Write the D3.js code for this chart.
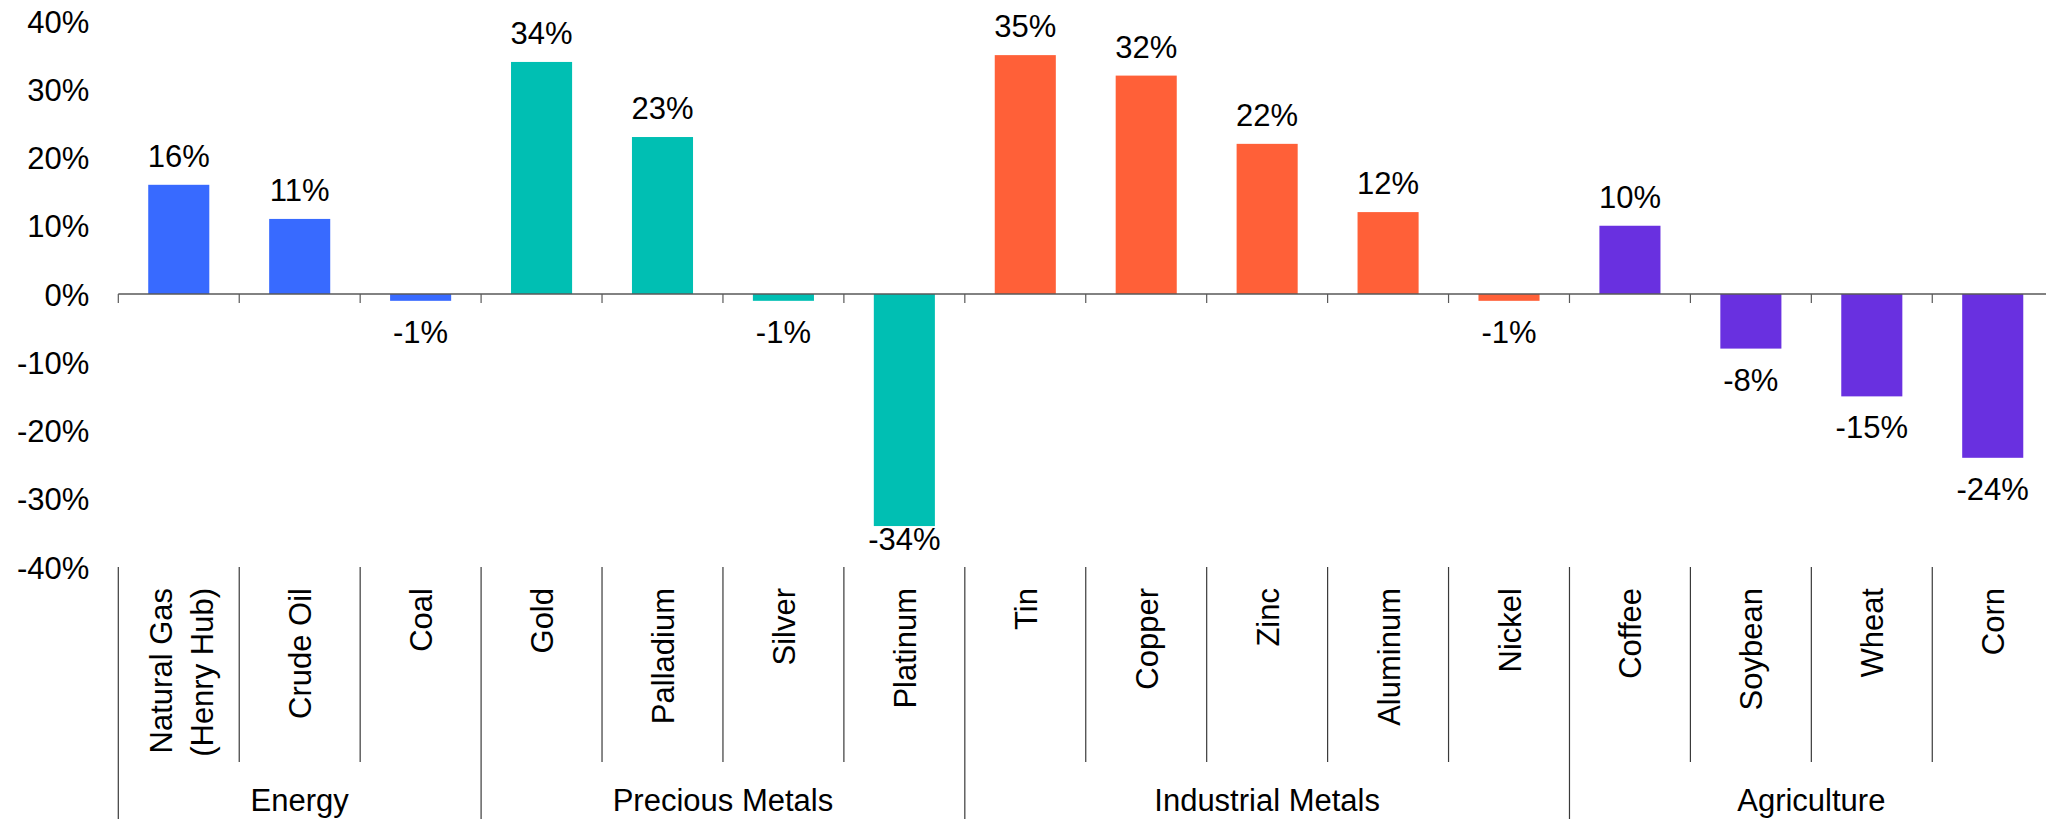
<!DOCTYPE html>
<html>
<head>
<meta charset="utf-8">
<script src="https://cdn.jsdelivr.net/npm/d3@7/dist/d3.min.js"></script>
<style>
  html, body { margin: 0; padding: 0; background: #fff; overflow: hidden; }
  svg { display: block; }
  text { font-family: "Liberation Sans", Arial, Helvetica, sans-serif; fill: #000; }
</style>
</head>
<body>
<svg id="chart" width="2046" height="819"></svg>
<script>
// Commodity returns by sector
const categories = [
  "Natural Gas\n(Henry Hub)", "Crude Oil", "Coal",
  "Gold", "Palladium", "Silver", "Platinum",
  "Tin", "Copper", "Zinc", "Aluminum", "Nickel",
  "Coffee", "Soybean", "Wheat", "Corn"
];
const values = [16, 11, -1, 34, 23, -1, -34, 35, 32, 22, 12, -1, 10, -8, -15, -24];
const groups = ["Energy", "Precious Metals", "Industrial Metals", "Agriculture"];
const groupSizes = [3, 4, 5, 4];
const groupColors = ["#386AFF", "#00BFB3", "#FF6038", "#6930E0"];
const yTicks = [-40, -30, -20, -10, 0, 10, 20, 30, 40];

const W = 2046, H = 819;
const FONT = 31;
const plotLeft = 118.3, plotRight = 2053.2, plotTop = 21, plotBottom = 567;

const svg = d3.select("#chart");

// group index for each category
const groupIndex = [];
groupSizes.forEach((n, g) => { for (let i = 0; i < n; i++) groupIndex.push(g); });

const x = d3.scaleBand().domain(categories).range([plotLeft, plotRight]).paddingInner(0).paddingOuter(0);
const y = d3.scaleLinear().domain([-40, 40]).range([plotBottom, plotTop]);
const bw = x.bandwidth();
const barW = bw * 0.505;

// percent text with a plain hyphen for negatives
const pct = v => String(v) + "%";

// y axis labels (no axis line)
const yAxis = d3.axisLeft(y).tickValues(yTicks).tickFormat(pct).tickSize(0).tickPadding(29);
const gy = svg.append("g").attr("transform", `translate(${plotLeft},0)`).call(yAxis);
gy.select(".domain").remove();
gy.selectAll("text")
  .attr("dy", "0.355em")
  .style("font-size", FONT + "px")
  .style("font-family", '"Liberation Sans", Arial, sans-serif')
  .attr("fill", "#000");

// bars
svg.append("g").selectAll("rect")
  .data(categories)
  .join("rect")
  .attr("x", (c) => x(c) + (bw - barW) / 2)
  .attr("y", (c, i) => y(Math.max(0, values[i])))
  .attr("width", barW)
  .attr("height", (c, i) => Math.abs(y(values[i]) - y(0)))
  .attr("fill", (c, i) => groupColors[groupIndex[i]]);

// zero axis line with boundary ticks
const boundaries = categories.map(c => x(c)).concat([plotRight]);
const axisG = svg.append("g");
axisG.append("line")
  .attr("x1", plotLeft).attr("x2", plotRight)
  .attr("y1", y(0)).attr("y2", y(0))
  .attr("stroke", "#595959").attr("stroke-width", 1.4);
axisG.selectAll("line.tick")
  .data(boundaries)
  .join("line")
  .attr("class", "tick")
  .attr("x1", d => d).attr("x2", d => d)
  .attr("y1", y(0)).attr("y2", y(0) + 9)
  .attr("stroke", "#595959").attr("stroke-width", 1.2);

// value labels
svg.append("g").selectAll("text")
  .data(categories)
  .join("text")
  .attr("x", c => x(c) + bw / 2)
  .attr("y", (c, i) => {
    const v = values[i];
    if (v >= 0) return y(v) - 17.7;
    return Math.min(y(v) + 42, plotBottom - 17);
  })
  .attr("text-anchor", "middle")
  .style("font-size", FONT + "px")
  .text((c, i) => pct(values[i]));

// category divider lines and rotated labels
const catLineBottom = 762;
const groupStarts = [];
{ let s = 0; groupSizes.forEach(n => { groupStarts.push(s); s += n; }); groupStarts.push(s); }
const divG = svg.append("g");
boundaries.forEach((bx, k) => {
  const isGroupEdge = groupStarts.includes(k);
  divG.append("line")
    .attr("x1", bx).attr("x2", bx)
    .attr("y1", plotBottom).attr("y2", isGroupEdge ? H + 2 : catLineBottom)
    .attr("stroke", "#3a3a3a").attr("stroke-width", 1.2);
});

const labG = svg.append("g");
categories.forEach(c => {
  const lines = c.split("\n");
  const cx = x(c) + bw / 2;
  lines.forEach((ln, i) => {
    const bx = cx + 11.5 + (i - (lines.length - 1) / 2) * 41 + (lines.length > 1 ? 2 : 0);
    labG.append("text")
      .attr("transform", `translate(${bx},588) rotate(-90)`)
      .attr("text-anchor", "end")
      .style("font-size", FONT + "px")
      .text(ln);
  });
});

// group labels
groups.forEach((g, gi) => {
  const x0 = boundaries[groupStarts[gi]];
  const x1 = boundaries[groupStarts[gi + 1]];
  svg.append("text")
    .attr("x", (x0 + x1) / 2)
    .attr("y", 811)
    .attr("text-anchor", "middle")
    .style("font-size", FONT + "px")
    .text(g);
});
</script>
</body>
</html>
